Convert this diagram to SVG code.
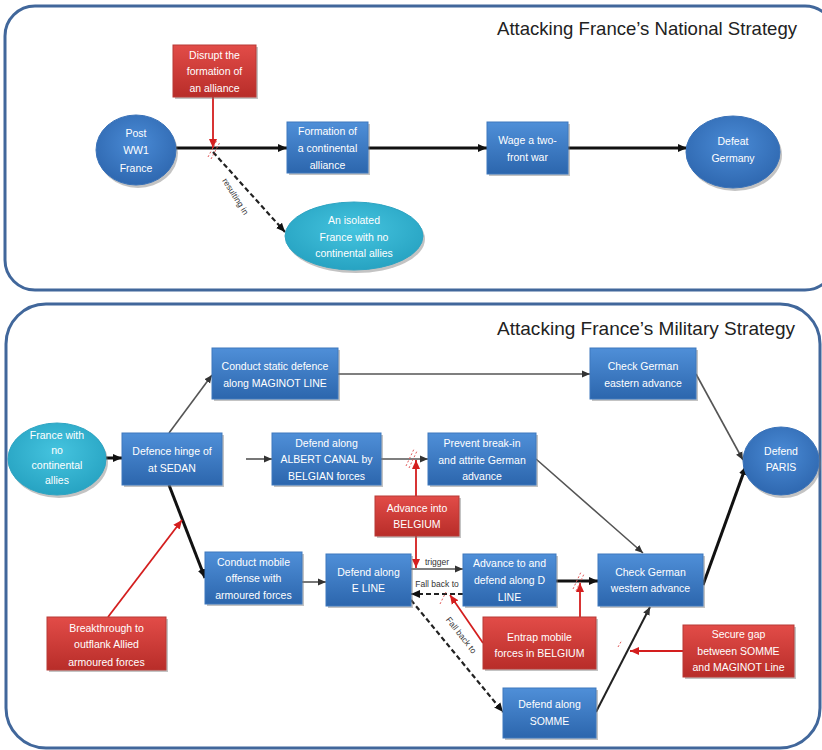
<svg xmlns="http://www.w3.org/2000/svg" width="822" height="750" viewBox="0 0 822 750">
<defs>
<linearGradient id="gB" x1="0" y1="0" x2="0" y2="1"><stop offset="0" stop-color="#4f8fd8"/><stop offset="1" stop-color="#2c66ad"/></linearGradient>
<linearGradient id="gR" x1="0" y1="0" x2="0" y2="1"><stop offset="0" stop-color="#e24c48"/><stop offset="1" stop-color="#b82d29"/></linearGradient>
<radialGradient id="gE" cx="0.5" cy="0.4" r="0.6"><stop offset="0" stop-color="#4a8bd6"/><stop offset="1" stop-color="#2f68b0"/></radialGradient>
<radialGradient id="gC" cx="0.5" cy="0.4" r="0.6"><stop offset="0" stop-color="#45c4df"/><stop offset="1" stop-color="#27a3c2"/></radialGradient>
<marker id="ab" markerUnits="userSpaceOnUse" markerWidth="10" markerHeight="10" refX="9" refY="5" orient="auto"><path d="M0,1 L9,5 L0,9 z" fill="#111"/></marker>
<marker id="ag" markerUnits="userSpaceOnUse" markerWidth="9" markerHeight="9" refX="8" refY="4.5" orient="auto"><path d="M0,1 L8,4.5 L0,8 z" fill="#333"/></marker>
<marker id="ar" markerUnits="userSpaceOnUse" markerWidth="10" markerHeight="10" refX="9" refY="5" orient="auto"><path d="M0,1 L9,5 L0,9 z" fill="#d41e1e"/></marker>
</defs>
<style>
.panel{fill:#fff;stroke:#41679b;stroke-width:3}
.title{font-family:"Liberation Sans",Arial,sans-serif;font-size:19px;fill:#222}
.bb{fill:url(#gB);stroke:#3e78bd;stroke-width:1}
.rb{fill:url(#gR);stroke:#b83a36;stroke-width:1}
.sh{fill:#7a7a7a;opacity:0.45}
.eb{fill:url(#gE);stroke:#3a72b8;stroke-width:1}
.ec{fill:url(#gC);stroke:#2ea4c2;stroke-width:1}
.t{font-family:"Liberation Sans",Arial,sans-serif;font-size:10.5px;fill:#fff;text-anchor:middle}
.lab{font-family:"Liberation Sans",Arial,sans-serif;font-size:8.5px;fill:#333;text-anchor:middle}
.thick{stroke:#111;stroke-width:3;fill:none;marker-end:url(#ab)}
.thin{stroke:#555;stroke-width:1.6;fill:none;marker-end:url(#ag)}
.dash{stroke:#222;stroke-width:2.2;stroke-dasharray:5 3;fill:none;marker-end:url(#ab)}
.red{stroke:#d41e1e;stroke-width:1.8;fill:none;marker-end:url(#ar)}
.hash{stroke:#e05a5a;stroke-width:1;stroke-dasharray:2 2;fill:none}
</style>

<rect class="panel" x="5" y="6" width="830" height="284" rx="30"/>
<rect class="panel" x="6" y="304" width="814" height="444" rx="40"/>
<text class="title" x="797" y="35" text-anchor="end" textLength="300" lengthAdjust="spacingAndGlyphs">Attacking France’s National Strategy</text>
<text class="title" x="795" y="335" text-anchor="end" textLength="298" lengthAdjust="spacingAndGlyphs">Attacking France’s Military Strategy</text>

<g id="connectors">
<line class="thick" x1="176" y1="148" x2="287" y2="148"/>
<line class="thick" x1="368" y1="148" x2="487" y2="148"/>
<line class="thick" x1="568" y1="148" x2="687" y2="148"/>
<line class="red" x1="213" y1="97" x2="213" y2="148" stroke-width="1.2"/>
<line class="dash" x1="213" y1="152" x2="285" y2="232"/>
<path class="hash" d="M208,157 L217,140 M211,159 L220,142"/>
<text class="lab" transform="translate(233,198) rotate(58)">resulting in</text>

<line class="thick" x1="106" y1="458" x2="122" y2="458"/>
<line class="thin" x1="169" y1="433" x2="212" y2="375"/>
<line class="thin" x1="246" y1="459" x2="272" y2="459"/>
<line class="thin" x1="338" y1="374" x2="590" y2="374"/>
<line class="thin" x1="381" y1="459" x2="428" y2="459"/>
<line class="thin" x1="696" y1="374" x2="743" y2="460"/>
<polyline class="thin" points="536,459 610,524 643,553"/>
<line class="thick" x1="169" y1="485" x2="205" y2="578"/>
<line class="red" x1="108" y1="617" x2="182" y2="520"/>
<line class="red" x1="416" y1="496" x2="416" y2="460"/>
<line class="red" x1="416" y1="536" x2="416" y2="568"/>
<path class="hash" d="M406,466 L414,449 M409,468 L417,451"/>
<line class="thin" x1="302" y1="582" x2="326" y2="582"/>
<line class="thin" x1="411" y1="569" x2="463" y2="569" stroke-width="1.3"/>
<text class="lab" x="437" y="565" font-size="7px">trigger</text>
<line class="dash" x1="463" y1="594" x2="411" y2="594" stroke-width="2"/>
<text class="lab" x="437" y="587" font-size="8px" fill="#222">Fall back to</text>
<line class="dash" x1="411" y1="600" x2="503" y2="712" stroke-width="2"/>
<text class="lab" transform="translate(459,637) rotate(52)">Fall back to</text>
<line class="red" x1="483" y1="643" x2="450" y2="595"/>
<path class="hash" d="M440,604 L446,592"/>
<line class="thick" x1="556" y1="581" x2="598" y2="581"/>
<line class="red" x1="580" y1="617" x2="580" y2="583"/>
<path class="hash" d="M573,589 L581,572 M576,591 L584,574"/>
<line x1="596" y1="712" x2="650" y2="607" stroke="#222" stroke-width="2" marker-end="url(#ag)"/>
<line class="red" x1="683" y1="651" x2="630" y2="651"/>
<path class="hash" d="M618,647 L622,640"/>
<line class="thick" x1="703" y1="585" x2="746" y2="466"/>
</g>

<g id="post-ww1-france"><ellipse class="sh" cx="138" cy="153" rx="40" ry="35"/><ellipse class="eb" cx="136" cy="150" rx="40" ry="35"/><text class="t"><tspan x="136" y="136.5">Post</tspan><tspan x="136" y="153.5">WW1</tspan><tspan x="136" y="171.5">France</tspan></text></g>
<g id="disrupt-alliance"><rect class="sh" x="175" y="47" width="83" height="52"/><rect class="rb" x="173" y="45" width="83" height="52"/><text class="t"><tspan x="214.5" y="58.5">Disrupt the</tspan><tspan x="214.5" y="74.5">formation of</tspan><tspan x="214.5" y="91.5">an alliance</tspan></text></g>
<g id="formation-alliance"><rect class="sh" x="289" y="124" width="81" height="51"/><rect class="bb" x="287" y="122" width="81" height="51"/><text class="t"><tspan x="327.5" y="134.5">Formation of</tspan><tspan x="327.5" y="151.5">a continental</tspan><tspan x="327.5" y="168.5">alliance</tspan></text></g>
<g id="two-front-war"><rect class="sh" x="489" y="124" width="81" height="52"/><rect class="bb" x="487" y="122" width="81" height="52"/><text class="t"><tspan x="527.5" y="143.5">Wage a two-</tspan><tspan x="527.5" y="160.5">front war</tspan></text></g>
<g id="defeat-germany"><ellipse class="sh" cx="735" cy="155" rx="47" ry="36"/><ellipse class="eb" cx="733" cy="152" rx="47" ry="36"/><text class="t"><tspan x="733" y="145">Defeat</tspan><tspan x="733" y="162">Germany</tspan></text></g>
<g id="isolated-france"><ellipse class="sh" cx="356" cy="239" rx="69" ry="34"/><ellipse class="ec" cx="354" cy="236" rx="69" ry="34"/><text class="t"><tspan x="354" y="223.5">An isolated</tspan><tspan x="354" y="240.5">France with no</tspan><tspan x="354" y="256.5">continental allies</tspan></text></g>

<g id="france-no-allies"><ellipse class="sh" cx="59" cy="462" rx="49" ry="36"/><ellipse class="ec" cx="57" cy="459" rx="49" ry="36"/><text class="t"><tspan x="57" y="438.5">France with</tspan><tspan x="57" y="453.5">no</tspan><tspan x="57" y="468.5">continental</tspan><tspan x="57" y="483.5">allies</tspan></text></g>
<g id="defence-hinge"><rect class="sh" x="124" y="435" width="100" height="52"/><rect class="bb" x="122" y="433" width="100" height="52"/><text class="t"><tspan x="172" y="454.5">Defence hinge of</tspan><tspan x="172" y="471.5">at SEDAN</tspan></text></g>
<g id="maginot"><rect class="sh" x="214" y="350" width="126" height="51"/><rect class="bb" x="212" y="348" width="126" height="51"/><text class="t"><tspan x="275" y="369.5">Conduct static defence</tspan><tspan x="275" y="386.5">along MAGINOT LINE</tspan></text></g>
<g id="albert-canal"><rect class="sh" x="274" y="435" width="109" height="52"/><rect class="bb" x="272" y="433" width="109" height="52"/><text class="t"><tspan x="326.5" y="446.5">Defend along</tspan><tspan x="326.5" y="462.5">ALBERT CANAL by</tspan><tspan x="326.5" y="479.5">BELGIAN forces</tspan></text></g>
<g id="prevent-breakin"><rect class="sh" x="430" y="435" width="108" height="52"/><rect class="bb" x="428" y="433" width="108" height="52"/><text class="t"><tspan x="482" y="446.5">Prevent break-in</tspan><tspan x="482" y="463.5">and attrite German</tspan><tspan x="482" y="479.5">advance</tspan></text></g>
<g id="check-eastern"><rect class="sh" x="592" y="350" width="106" height="51"/><rect class="bb" x="590" y="348" width="106" height="51"/><text class="t"><tspan x="643" y="369.5">Check German</tspan><tspan x="643" y="386.5">eastern advance</tspan></text></g>
<g id="defend-paris"><ellipse class="sh" cx="783" cy="464" rx="38" ry="34"/><ellipse class="eb" cx="781" cy="461" rx="38" ry="34"/><text class="t"><tspan x="781" y="455">Defend</tspan><tspan x="781" y="471">PARIS</tspan></text></g>
<g id="advance-belgium"><rect class="sh" x="377" y="498" width="84" height="40"/><rect class="rb" x="375" y="496" width="84" height="40"/><text class="t"><tspan x="417" y="511.5">Advance into</tspan><tspan x="417" y="527.5">BELGIUM</tspan></text></g>
<g id="mobile-offense"><rect class="sh" x="207" y="554" width="97" height="52"/><rect class="bb" x="205" y="552" width="97" height="52"/><text class="t"><tspan x="253.5" y="565.5">Conduct mobile</tspan><tspan x="253.5" y="581.5">offense with</tspan><tspan x="253.5" y="598.5">armoured forces</tspan></text></g>
<g id="e-line"><rect class="sh" x="328" y="556" width="85" height="52"/><rect class="bb" x="326" y="554" width="85" height="52"/><text class="t"><tspan x="368.5" y="575.5">Defend along</tspan><tspan x="368.5" y="591.5">E LINE</tspan></text></g>
<g id="d-line"><rect class="sh" x="465" y="556" width="93" height="52"/><rect class="bb" x="463" y="554" width="93" height="52"/><text class="t"><tspan x="509.5" y="566.5">Advance to and</tspan><tspan x="509.5" y="583.5">defend along D</tspan><tspan x="509.5" y="600.5">LINE</tspan></text></g>
<g id="check-western"><rect class="sh" x="600" y="556" width="105" height="52"/><rect class="bb" x="598" y="554" width="105" height="52"/><text class="t"><tspan x="650.5" y="575.5">Check German</tspan><tspan x="650.5" y="591.5">western advance</tspan></text></g>
<g id="entrap-mobile"><rect class="sh" x="485" y="619" width="113" height="52"/><rect class="rb" x="483" y="617" width="113" height="52"/><text class="t"><tspan x="539.5" y="640.5">Entrap mobile</tspan><tspan x="539.5" y="656.5">forces in BELGIUM</tspan></text></g>
<g id="somme"><rect class="sh" x="505" y="690" width="93" height="50"/><rect class="bb" x="503" y="688" width="93" height="50"/><text class="t"><tspan x="549.5" y="707.5">Defend along</tspan><tspan x="549.5" y="724.5">SOMME</tspan></text></g>
<g id="secure-gap"><rect class="sh" x="685" y="627" width="111" height="52"/><rect class="rb" x="683" y="625" width="111" height="52"/><text class="t"><tspan x="738.5" y="637.5">Secure gap</tspan><tspan x="738.5" y="654.5">between SOMME</tspan><tspan x="738.5" y="670.5">and MAGINOT Line</tspan></text></g>
<g id="breakthrough"><rect class="sh" x="49" y="619" width="119" height="53"/><rect class="rb" x="47" y="617" width="119" height="53"/><text class="t"><tspan x="106.5" y="631.5">Breakthrough to</tspan><tspan x="106.5" y="647.5">outflank Allied</tspan><tspan x="106.5" y="665.5">armoured forces</tspan></text></g>
</svg>
